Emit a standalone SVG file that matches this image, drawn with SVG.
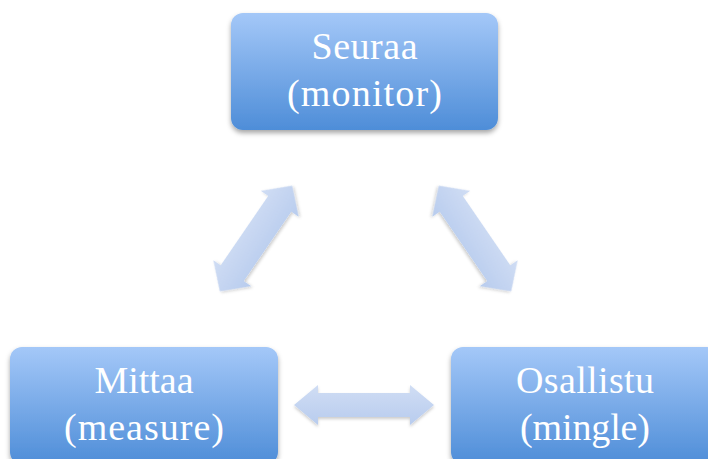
<svg xmlns="http://www.w3.org/2000/svg" width="708" height="459" viewBox="0 0 708 459">
  <style>
    .box { fill: url(#boxGrad); filter: url(#shadow); }
    .lbl { font-family: "Liberation Serif", "DejaVu Serif", serif; font-size: 38px; fill: #ffffff; text-anchor: middle; }
    .arrow { fill: url(#arrowGrad); filter: url(#ashadow); }
  </style>
  <defs>
    <linearGradient id="boxGrad" x1="0" y1="0" x2="0" y2="1">
      <stop offset="0" stop-color="#a4c8f8"/>
      <stop offset="1" stop-color="#4e8dd8"/>
    </linearGradient>
    <linearGradient id="arrowGrad" x1="0" y1="0" x2="0" y2="1">
      <stop offset="0" stop-color="#d0ddf4"/>
      <stop offset="1" stop-color="#b8ccee"/>
    </linearGradient>
    <filter id="shadow" x="-10%" y="-10%" width="120%" height="130%">
      <feDropShadow dx="0" dy="3" stdDeviation="2.5" flood-color="#000" flood-opacity="0.35"/>
    </filter>
    <filter id="ashadow" x="-20%" y="-20%" width="140%" height="160%">
      <feDropShadow dx="0" dy="2" stdDeviation="1.5" flood-color="#000" flood-opacity="0.2"/>
    </filter>
  </defs>

  <g id="connectors">
    <polygon class="arrow" transform="translate(256,238.5) rotate(-55.6)" points="-64,0 -42,-23 -42,-14 42,-14 42,-23 64,0 42,23 42,14 -42,14 -42,23"/>
    <polygon class="arrow" transform="translate(475,238.5) rotate(55.6)" points="-64,0 -42,-23 -42,-14 42,-14 42,-23 64,0 42,23 42,14 -42,14 -42,23"/>
    <polygon class="arrow" transform="translate(364,405)" points="-70,0 -46,-20 -46,-12 46,-12 46,-20 70,0 46,20 46,12 -46,12 -46,20"/>
  </g>

  <g id="node-seuraa">
    <rect class="box" x="231" y="13" width="267" height="117" rx="12"/>
    <text class="lbl" x="364.5" y="59" textLength="106" lengthAdjust="spacing">Seuraa</text>
    <text class="lbl" x="364.5" y="106" textLength="155" lengthAdjust="spacing">(monitor)</text>
  </g>

  <g id="node-mittaa">
    <rect class="box" x="10" y="347" width="268" height="117" rx="12"/>
    <text class="lbl" x="144" y="393" textLength="99" lengthAdjust="spacing">Mittaa</text>
    <text class="lbl" x="144" y="440" textLength="160" lengthAdjust="spacing">(measure)</text>
  </g>

  <g id="node-osallistu">
    <rect class="box" x="451" y="347" width="268" height="117" rx="12"/>
    <text class="lbl" x="585" y="393" textLength="138" lengthAdjust="spacing">Osallistu</text>
    <text class="lbl" x="585" y="440" textLength="130" lengthAdjust="spacing">(mingle)</text>
  </g>
</svg>
